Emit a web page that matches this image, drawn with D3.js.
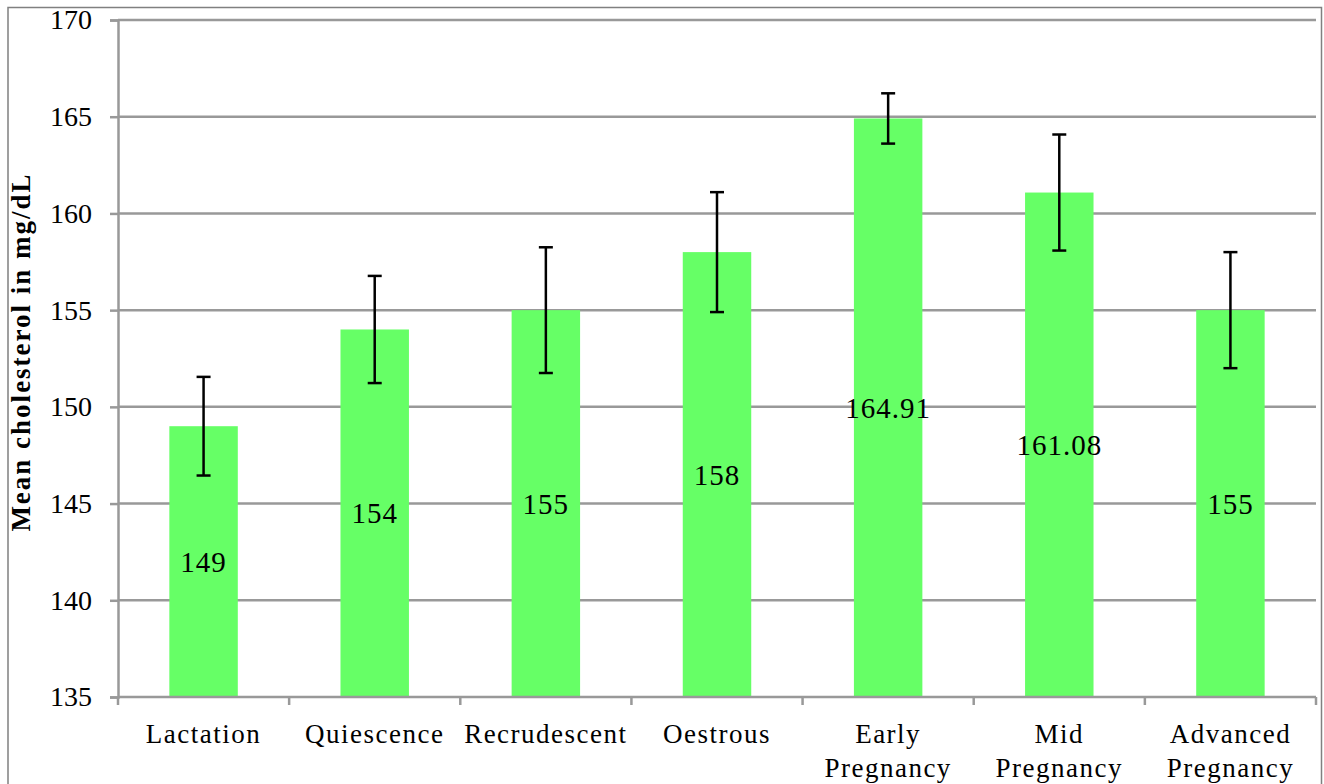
<!DOCTYPE html>
<html><head><meta charset="utf-8">
<script src="https://cdn.jsdelivr.net/npm/d3@7"></script>
<style>body{margin:0;background:#fff}svg{display:block}
svg text{font-family:"Liberation Serif","Times New Roman",Times,serif;}</style>
</head><body><svg id="c" width="1324" height="784"></svg>
<script>
const categories = [["Lactation"],["Quiescence"],["Recrudescent"],["Oestrous"],["Early","Pregnancy"],["Mid","Pregnancy"],["Advanced","Pregnancy"]];
const values = [149,154,155,158,164.91,161.08,155];
const valueLabels = ["149","154","155","158","164.91","161.08","155"];
const errors = [2.55,2.77,3.25,3.1,1.3,3.0,3.0];
const yTicks = [135,140,145,150,155,160,165,170];
const yTitle = "Mean cholesterol in mg/dL";

const svg = d3.select("#c");
const L=118, R=1316, T=20, B=697;
const keys = categories.map((c,i)=>i);
const x = d3.scaleBand().domain(keys).range([L,R]).paddingInner(0.6).paddingOuter(0.3);
const xb = d3.scaleBand().domain(keys).range([L,R]);
const y = d3.scaleLinear().domain([135,170]).range([B,T]);

svg.append("path").attr("d",`M8,784 V7.5 H1321.5 V784`).attr("fill","none").attr("stroke","#808080").attr("stroke-width",1.5);

svg.append("g").selectAll("line").data(yTicks.slice(1)).join("line")
  .attr("x1",L).attr("x2",R).attr("y1",d=>y(d)).attr("y2",d=>y(d))
  .attr("stroke","#999").attr("stroke-width",2.5);

svg.append("g").selectAll("rect").data(values).join("rect")
  .attr("x",(d,i)=>x(i)).attr("width",x.bandwidth())
  .attr("y",d=>y(d)).attr("height",d=>B-y(d)).attr("fill","#66FF66");

const ya = svg.append("g").attr("transform",`translate(${L},0)`)
  .call(d3.axisLeft(y).tickValues(yTicks).tickSize(8).tickPadding(18).tickFormat(d3.format("d")));
ya.attr("font-family",null).attr("font-size",null);
ya.select(".domain").attr("stroke","#999").attr("stroke-width",2.5);
ya.selectAll(".tick line").attr("stroke","#999").attr("stroke-width",2.5);
ya.selectAll(".tick text").style("font-size","28px").attr("fill","#000");

const xa = svg.append("g").attr("transform",`translate(0,${B})`);
xa.append("line").attr("x1",L).attr("x2",R).attr("stroke","#999").attr("stroke-width",2.5);
xa.selectAll("line.t").data(keys.concat([keys.length])).join("line").attr("class","t")
  .attr("x1",d=>d<keys.length?xb(d):R).attr("x2",d=>d<keys.length?xb(d):R)
  .attr("y1",0).attr("y2",8).attr("stroke","#999").attr("stroke-width",2.5);
const xl = xa.selectAll("text").data(categories).join("text")
  .style("font-size","27px").attr("text-anchor","middle").attr("fill","#000")
  .attr("letter-spacing","1.5");
xl.each(function(c,i){
  const t=d3.select(this);
  c.forEach((ln,j)=>t.append("tspan").attr("x",xb(i)+xb.bandwidth()/2).attr("y",46+j*34).text(ln));
});

const eg = svg.append("g").attr("stroke","#000").attr("stroke-width",2.5);
values.forEach((v,i)=>{
  const cx = x(i)+x.bandwidth()/2;
  eg.append("line").attr("x1",cx).attr("x2",cx).attr("y1",y(v+errors[i])).attr("y2",y(v-errors[i]));
  eg.append("line").attr("x1",cx-7).attr("x2",cx+7).attr("y1",y(v+errors[i])).attr("y2",y(v+errors[i]));
  eg.append("line").attr("x1",cx-7).attr("x2",cx+7).attr("y1",y(v-errors[i])).attr("y2",y(v-errors[i]));
});

svg.append("g").selectAll("text").data(values).join("text")
  .attr("x",(d,i)=>x(i)+x.bandwidth()/2).attr("y",d=>(y(d)+B)/2)
  .attr("dy","0.35em").attr("text-anchor","middle")
  .style("font-size","29px").attr("letter-spacing","1").attr("fill","#000")
  .text((d,i)=>valueLabels[i]);

svg.append("text").attr("transform",`translate(30,352) rotate(-90)`)
  .attr("text-anchor","middle").attr("font-weight","bold")
  .style("font-size","27px").attr("letter-spacing","2").attr("fill","#000").text(yTitle);
</script></body></html>
